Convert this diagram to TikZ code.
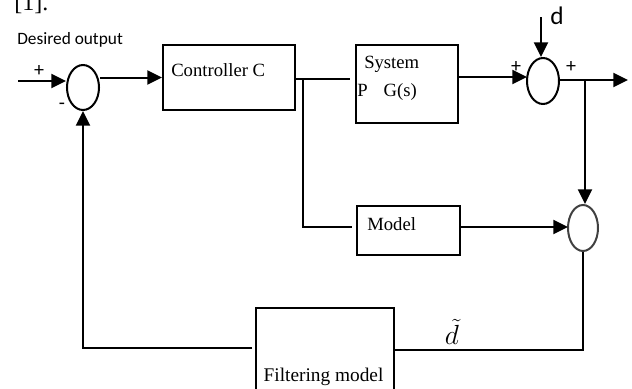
\documentclass[tikz,border=0pt]{standalone}
\usepackage{fontspec}
\setmainfont{Liberation Serif}
\newfontfamily\sansf{Carlito}
\usetikzlibrary{shapes.geometric,arrows.meta}
\begin{document}
\begin{tikzpicture}[x=0.75pt,y=-0.75pt,
  box/.style={draw, line width=1.5pt, rectangle, inner sep=0pt},
  sumj/.style={draw, ellipse, line width=1.5pt, inner sep=0pt},
  conn/.style={line width=1.5pt},
  arr/.style={conn, -{Triangle[length=11pt,width=10.5pt]}},
  lbl/.style={font=\fontsize{14}{16}\selectfont, inner sep=0pt, anchor=west},
  sgn/.style={font=\sansf\fontsize{15}{17}\selectfont, inner sep=0pt}]
\useasboundingbox (0,0) rectangle (632,389);
\clip (0,0) rectangle (632,389);
% texts outside
\node[font=\fontsize{18}{20}\selectfont, inner sep=0pt, anchor=base west] (ref) at (14,10) {[1].};
\node[font=\sansf\fontsize{13}{15}\selectfont, inner sep=0pt, anchor=west] (des) at (17,40) {Desired output};
% summing junctions
\node[sumj, minimum width=24pt, minimum height=33.75pt] (sum1) at (83,87.5) {};
\node[sumj, minimum width=24pt, minimum height=34.5pt] (sum2) at (543,81) {};
\node[sumj, draw=black!75, minimum width=22.5pt, minimum height=34.5pt] (sum3) at (583,228) {};
% boxes
\node[box, minimum width=99pt, minimum height=48.75pt] (ctrl) at (229,77.5) {};
\node[lbl] (ctrlt) at (171,70) {Controller C};
\node[box, minimum width=76.5pt, minimum height=58.5pt] (sys) at (407,84) {};
\node[lbl] (syst1) at (364,64) {System};
\node[lbl] (syst2) at (357,92) {P\hskip 12pt G(s)};
\node[box, minimum width=77.25pt, minimum height=36.75pt] (model) at (408.5,230.5) {};
\node[lbl] (modelt) at (367,224) {Model};
\node[box, minimum width=103.5pt, minimum height=69pt] (filt) at (325,354) {};
\node[font=\fontsize{14.5}{16}\selectfont, inner sep=0pt] (filtt) at (323.5,377) {Filtering model};
% signs and labels
\node[sgn] (p1) at (39,71) {+};
\node[sgn] (m1) at (62,106) {-};
\node[sgn] (p2) at (516,67) {+};
\node[sgn] (p3) at (571,67) {+};
\node[font=\sansf\fontsize{19}{21}\selectfont, inner sep=0pt] (dl) at (557,16) {d};
\node[inner sep=0pt, font=\fontsize{20}{22}\selectfont] (dt) at (452,332) {$\tilde{d}$};
% coordinates
\coordinate (in) at (18,81);
\coordinate (sysin) at (350,79);
\coordinate (j1) at (303,79);
\coordinate (modin) at (352,227);
\coordinate (q2) at (527,77);
\coordinate (dtop) at (541,17);
\coordinate (out) at (628,80);
\coordinate (j2) at (585,80);
\coordinate (q3) at (568,227);
\coordinate (fl) at (252,348);
\coordinate (fr) at (583,350);
% connectors
\draw[arr] (in) -- (sum1.west |- in);
\draw[arr] (ctrl.west -| sum1.east) -- (ctrl.west);
\draw[conn] (ctrl.east |- j1) -- (sysin);
\draw[conn] (j1) |- (modin);
\draw[arr] (q2 -| sys.east) -- (q2);
\draw[arr] (dtop) -- (dtop |- sum2.north);
\draw[arr] (sum2.east |- out) -- (out);
\draw[arr] (j2) -- (j2 |- sum3.north);
\draw[arr] (q3 -| model.east) -- (q3);
\draw[arr] (fl) -| (sum1.south);
\draw[conn] (fr -| filt.east) -- (fr) -- (sum3.south);
\end{tikzpicture}
\end{document}
